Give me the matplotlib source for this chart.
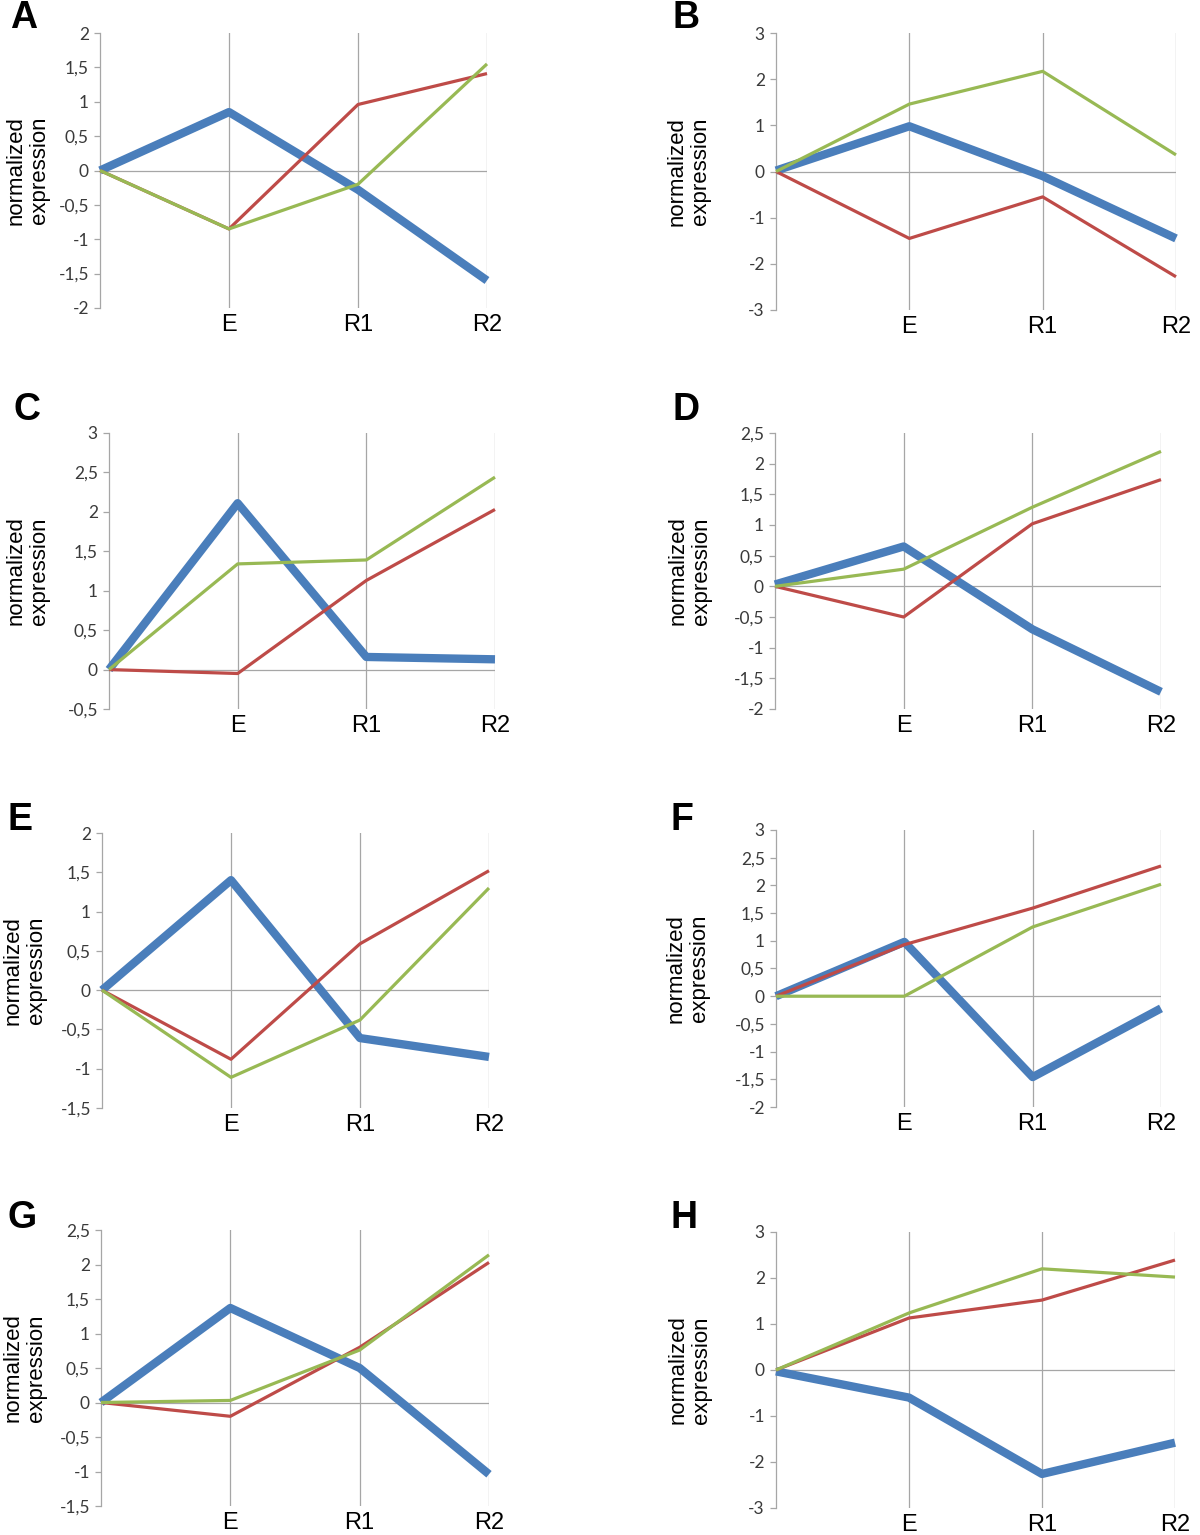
import matplotlib
matplotlib.use('Agg')
import matplotlib.pyplot as plt
import numpy as np
from matplotlib.ticker import FuncFormatter, MultipleLocator

# x categories (first point is the unlabeled start)
conditions = ['', 'E', 'R1', 'R2']
panels = ['A', 'B', 'C', 'D', 'E', 'F', 'G', 'H']

blue = {
    'A': [0, 0.85, -0.28, -1.6],
    'B': [0.02, 0.98, -0.1, -1.45],
    'C': [0, 2.11, 0.16, 0.13],
    'D': [0.03, 0.65, -0.7, -1.72],
    'E': [0, 1.4, -0.61, -0.85],
    'F': [0, 0.98, -1.46, -0.22],
    'G': [0, 1.37, 0.5, -1.04],
    'H': [-0.03, -0.6, -2.26, -1.58],
}
red = {
    'A': [0, -0.85, 0.96, 1.41],
    'B': [0, -1.45, -0.55, -2.28],
    'C': [0, -0.05, 1.13, 2.03],
    'D': [0, -0.5, 1.02, 1.74],
    'E': [0, -0.88, 0.59, 1.52],
    'F': [0, 0.93, 1.59, 2.35],
    'G': [0, -0.2, 0.8, 2.03],
    'H': [0, 1.13, 1.52, 2.39],
}
green = {
    'A': [0, -0.85, -0.2, 1.55],
    'B': [0, 1.46, 2.17, 0.36],
    'C': [0, 1.34, 1.39, 2.44],
    'D': [0, 0.28, 1.29, 2.2],
    'E': [0, -1.11, -0.38, 1.3],
    'F': [0, 0, 1.25, 2.02],
    'G': [0, 0.03, 0.76, 2.14],
    'H': [0, 1.24, 2.2, 2.02],
}
# y range and tick step per panel
ylims = {
    'A': (-2, 2, 0.5), 'B': (-3, 3, 1), 'C': (-0.5, 3, 0.5), 'D': (-2, 2.5, 0.5),
    'E': (-1.5, 2, 0.5), 'F': (-2, 3, 0.5), 'G': (-1.5, 2.5, 0.5), 'H': (-3, 3, 1),
}

# axes boxes in pixels: left, top, right, bottom ; ylabel x ; letter x, y
W, H = 1200, 1535
boxes = {
    'A': (100, 33, 487, 308, 28, 24, 18),
    'B': (776, 33, 1176, 310, 689, 686, 18),
    'C': (109, 433, 495, 709, 28, 27, 410),
    'D': (775, 433, 1161, 709, 690, 686, 410),
    'E': (102, 833, 489, 1108, 25, 20, 820),
    'F': (776, 830, 1161, 1107, 688, 682, 820),
    'G': (101, 1230, 489, 1506, 25, 22, 1218),
    'H': (776, 1232, 1175, 1508, 690, 684, 1218),
}

BLUE = '#4A7EBB'
RED = '#BE4B48'
GREEN = '#98B954'
GRID = '#A6A6A6'


def comma(v, pos):
    v = round(v, 2)
    if v == 0:
        return '0'
    return ('%g' % v).replace('.', ',')


fig = plt.figure(figsize=(W / 100, H / 100), dpi=100)
x = np.arange(len(conditions))

for p in panels:
    l, t, r, b, lx, px, py = boxes[p]
    ax = fig.add_axes([l / W, 1 - b / H, (r - l) / W, (b - t) / H])
    lo, hi, step = ylims[p]
    ax.set_xlim(0, 3)
    ax.set_ylim(lo, hi)

    for xv in x[1:]:
        ax.axvline(xv, color=GRID, lw=0.9, zorder=1)
    ax.axhline(0, color=GRID, lw=0.9, zorder=1)

    for vals, c, w in [(blue[p], BLUE, 6.0), (red[p], RED, 2.3), (green[p], GREEN, 2.3)]:
        ax.plot(x, vals, color=c, lw=w, solid_joinstyle='round',
                solid_capstyle='butt', clip_on=False, zorder=3)

    for s in ['top', 'right', 'bottom']:
        ax.spines[s].set_visible(False)
    ax.spines['left'].set_color(GRID)
    ax.spines['left'].set_linewidth(0.9)

    ax.yaxis.set_major_locator(MultipleLocator(step))
    ax.yaxis.set_major_formatter(FuncFormatter(comma))
    ax.tick_params(axis='y', direction='out', length=4, width=0.9, color=GRID,
                   labelsize=12.5, labelcolor='#3a3a3a', pad=4)
    for lab in ax.get_yticklabels():
        lab.set_family('Lato')

    ax.set_xticks(x[1:])
    ax.set_xticklabels(conditions[1:], family='Liberation Sans', fontsize=17)
    ax.tick_params(axis='x', length=0, pad=4)

    ax.text((lx - l) / (r - l), 0.5, 'normalized\nexpression', transform=ax.transAxes,
            rotation=90, ha='center', va='center', family='Liberation Sans',
            fontsize=16, linespacing=1.15)

    fig.text(px / W, 1 - py / H, p, ha='center', va='center', fontsize=27,
             fontweight='bold', family=['Liberation Sans Narrow', 'Liberation Sans'])

fig.savefig('out.png', dpi=100)
